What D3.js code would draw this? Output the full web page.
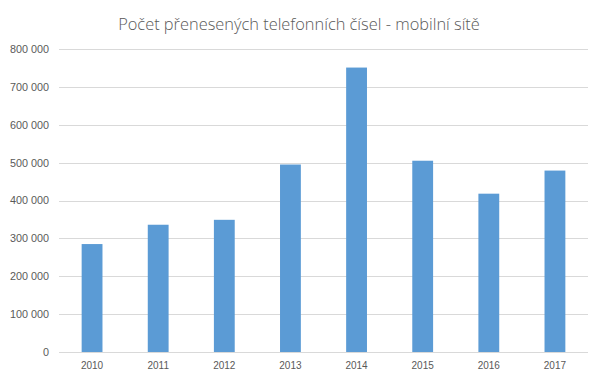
<!DOCTYPE html>
<html lang="cs">
<head>
  <meta charset="UTF-8">
  <title>Počet přenesených telefonních čísel - mobilní sítě</title>
  <script src="https://d3js.org/d3.v7.min.js"></script>
  <style>
    body { margin: 0; background: #fff; font-family: 'Open Sans', 'Liberation Sans', sans-serif; }
    .grid line { stroke: #d9d9d9; stroke-width: 1; }
    .tick text { fill: #595959; font-size: 10px; }
    .yax .tick text { font-size: 10.8px; }
  </style>
</head>
<body>
  <div id="chart"></div>
  <script>
    const years = ["2010", "2011", "2012", "2013", "2014", "2015", "2016", "2017"];
    const ported = [285000, 336000, 349000, 495000, 751000, 505000, 418000, 479000];
    const yTicks = [0, 100000, 200000, 300000, 400000, 500000, 600000, 700000, 800000];

    const width = 604, height = 384;
    const margin = { top: 49, right: 16, bottom: 32, left: 59 };

    const svg = d3.select("#chart").append("svg")
      .attr("width", width)
      .attr("height", height);

    const x = d3.scaleBand()
      .domain(years)
      .range([margin.left, width - margin.right])
      .paddingInner(0.685)
      .paddingOuter(0.3425);

    const y = d3.scaleLinear()
      .domain([0, 800000])
      .range([height - margin.bottom, margin.top]);

    const fmt = v => d3.format(",")(v).replace(/,/g, " ");

    // horizontal grid
    svg.append("g")
      .attr("class", "grid")
      .selectAll("line")
      .data(yTicks)
      .enter().append("line")
      .attr("x1", margin.left)
      .attr("x2", width - margin.right)
      .attr("y1", d => Math.round(y(d)) + 0.5)
      .attr("y2", d => Math.round(y(d)) + 0.5);

    // y labels
    const yAxis = svg.append("g")
      .attr("class", "yax")
      .attr("transform", `translate(${margin.left - 10},0)`)
      .call(d3.axisLeft(y).tickValues(yTicks).tickFormat(fmt).tickSize(0).tickPadding(0));
    yAxis.select(".domain").remove();

    // bars
    svg.append("g")
      .selectAll("rect")
      .data(years)
      .enter().append("rect")
      .attr("x", d => x(d))
      .attr("width", x.bandwidth())
      .attr("y", (d, i) => y(ported[i]))
      .attr("height", (d, i) => y(0) - y(ported[i]))
      .attr("fill", "#5b9bd5");

    // baseline over bars
    svg.append("line")
      .attr("x1", margin.left)
      .attr("x2", width - margin.right)
      .attr("y1", Math.round(y(0)) + 0.5)
      .attr("y2", Math.round(y(0)) + 0.5)
      .attr("stroke", "#d9d9d9");

    // x labels
    const xAxis = svg.append("g")
      .attr("transform", `translate(0,${y(0)})`)
      .call(d3.axisBottom(x).tickSize(0).tickPadding(10));
    xAxis.select(".domain").remove();

    // title
    const title = svg.append("text")
      .attr("x", 299)
      .attr("y", 30)
      .attr("text-anchor", "middle")
      .attr("fill", "#595959")
      .style("font-weight", 300)
      .style("font-size", "18px")
      .text("Počet přenesených telefonních čísel - mobilní sítě");
    const tw = title.node().getComputedTextLength();
    title.style("font-size", (18 * 362 / tw) + "px");
  </script>
</body>
</html>
